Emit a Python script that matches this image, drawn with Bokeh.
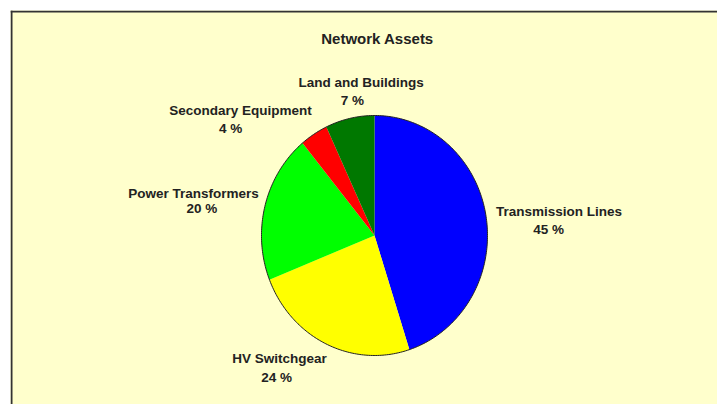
import numpy as np
from bokeh.plotting import figure
from bokeh.models import Range1d, Span, ColumnDataSource
from bokeh.core.properties import value
from bokeh.embed import file_html
from bokeh.resources import INLINE

# ---- data ----
title_text = "Network Assets"
categories = ["Transmission Lines", "HV Switchgear", "Power Transformers",
              "Secondary Equipment", "Land and Buildings"]
values = [45, 24, 20, 4, 7]
pct_labels = ["45 %", "24 %", "20 %", "4 %", "7 %"]
colors = ["#0000FF", "#FFFF00", "#00FF00", "#FF0000", "#007800"]

# ---- layout (pixels -> data units: pie is unit ellipse) ----
RX, RY = 113.0, 120.0          # px per data unit
FW, FH = 707, 394              # frame size
CX, CY = 364, 225              # pie centre within frame (px)
x0 = -CX / RX
x1 = (FW - CX) / RX
y1 = CY / RY
y0 = -(FH - CY) / RY

name_pos = [(1.633, 0.20), (-0.841, -1.025), (-1.602, 0.35), (-1.186, 1.042), (-0.119, 1.275)]
pct_pos = [(1.54, 0.05), (-0.867, -1.183), (-1.527, 0.225), (-1.274, 0.892), (-0.195, 1.125)]

p = figure(width=717, height=404, output_backend="svg", toolbar_location=None,
           x_range=Range1d(x0, x1), y_range=Range1d(y0, y1),
           x_axis_location=None, y_axis_location=None,
           min_border_left=10, min_border_top=10, min_border_right=0, min_border_bottom=0,
           background_fill_color="#FFFFCC", border_fill_color="white",
           outline_line_color=None)
p.grid.visible = False

# wedges (clockwise from 12 o'clock)
total = float(sum(values))
cum = np.cumsum([0] + values) / total
xs, ys = [], []
for i in range(len(values)):
    a_start = np.pi / 2 - 2 * np.pi * cum[i]
    a_end = np.pi / 2 - 2 * np.pi * cum[i + 1]
    t = np.linspace(a_start, a_end, 120)
    xs.append(np.concatenate([[0.0], np.cos(t)]).tolist())
    ys.append(np.concatenate([[0.0], np.sin(t)]).tolist())
p.patches(xs=xs, ys=ys, fill_color=colors, line_color=None)

# outer outline
tt = np.linspace(0, 2 * np.pi, 400)
p.line(np.cos(tt), np.sin(tt), line_color="#222222", line_width=1)

# border lines (top and left)
p.add_layout(Span(location=x0 + 1.0 / RX, dimension="height", line_color="#333333", line_width=2))
p.add_layout(Span(location=y1 - 1.0 / RY, dimension="width", line_color="#333333", line_width=2))

font = value("Liberation Sans")
src = ColumnDataSource(dict(
    nx=[q[0] for q in name_pos], ny=[q[1] for q in name_pos],
    px=[q[0] for q in pct_pos], py=[q[1] for q in pct_pos],
    name=categories, pct=pct_labels))
p.text(x="nx", y="ny", text="name", source=src, text_font=font, text_font_style="bold",
       text_font_size="13.5px", text_color="#222222", text_align="center", text_baseline="middle")
p.text(x="px", y="py", text="pct", source=src, text_font=font, text_font_style="bold",
       text_font_size="13.5px", text_color="#222222", text_align="center", text_baseline="middle")

p.text(x=[(377 - 374) / RX], y=[(235 - 38) / RY], text=[title_text], text_font=font,
       text_font_style="bold", text_font_size="15px", text_color="#222222",
       text_align="center", text_baseline="middle")

open("out.html", "w").write(file_html(p, INLINE))
